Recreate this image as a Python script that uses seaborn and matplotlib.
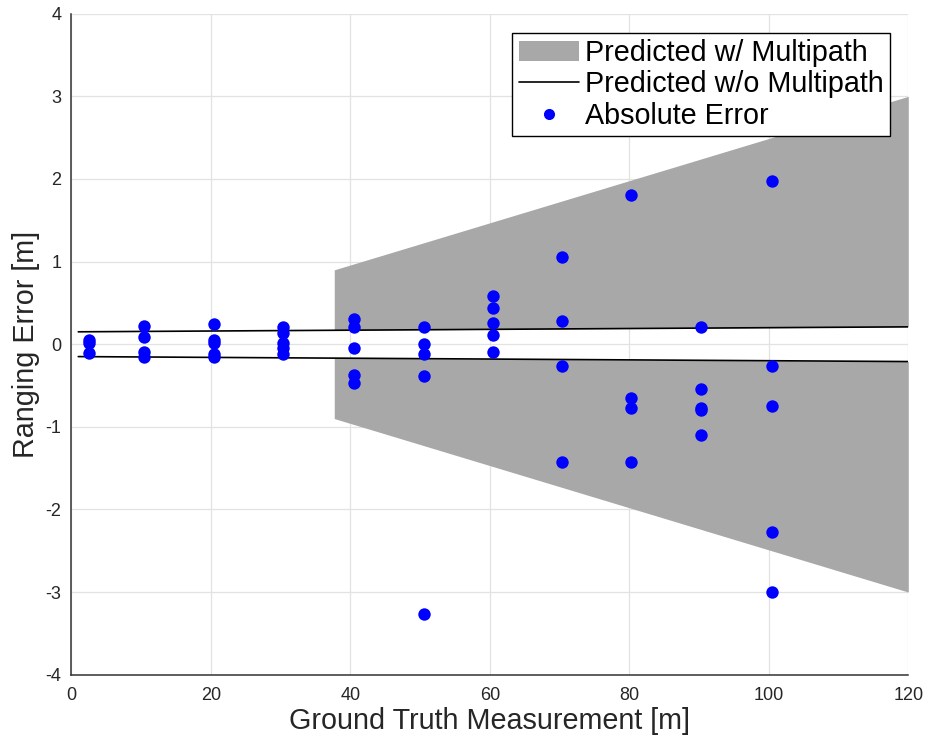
import numpy as np
import pandas as pd
import matplotlib
matplotlib.use("Agg")
import matplotlib.pyplot as plt
from matplotlib.patches import Patch
from matplotlib.lines import Line2D
import seaborn as sns

# ---- data ----
dist_2 = [2.5, 2.5, 2.5]
err_2 = [0.05, 0.02, -0.11]
dist_10 = [10.4, 10.4, 10.4, 10.4]
err_10 = [0.22, 0.09, -0.09, -0.16]
dist_20 = [20.4, 20.4, 20.4, 20.4, 20.4]
err_20 = [0.24, 0.05, 0.01, -0.12, -0.15]
dist_30 = [30.4, 30.4, 30.4, 30.4, 30.4]
err_30 = [0.21, 0.14, 0.01, -0.05, -0.12]
dist_40 = [40.5, 40.5, 40.5, 40.5, 40.5]
err_40 = [0.30, 0.21, -0.05, -0.37, -0.47]
dist_50 = [50.5, 50.5, 50.5, 50.5, 50.5]
err_50 = [0.21, 0.0, -0.12, -0.38, -3.27]
dist_60 = [60.4, 60.4, 60.4, 60.4, 60.4]
err_60 = [0.58, 0.44, 0.26, 0.11, -0.10]
dist_70 = [70.4, 70.4, 70.4, 70.4]
err_70 = [1.05, 0.28, -0.26, -1.43]
dist_80 = [80.3, 80.3, 80.3, 80.3]
err_80 = [1.80, -0.65, -0.77, -1.43]
dist_90 = [90.3, 90.3, 90.3, 90.3, 90.3]
err_90 = [0.21, -0.54, -0.77, -0.80, -1.10]
dist_100 = [100.5, 100.5, 100.5, 100.5, 100.5]
err_100 = [1.98, -0.26, -0.75, -2.27, -3.00]

# predicted without multipath (upper / lower bounds)
line_x = [1.0, 120.0]
line_upper = [0.15, 0.21]
line_lower = [-0.15, -0.21]

# predicted with multipath (outer bounds of shaded region)
band_x = [37.7, 120.0]
band_upper = [0.90, 3.00]
band_lower = [-0.90, -3.00]

x_ticks = [0, 20, 40, 60, 80, 100, 120]
y_ticks = [-4, -3, -2, -1, 0, 1, 2, 3, 4]

# ---- build table ----
dists = dist_2 + dist_10 + dist_20 + dist_30 + dist_40 + dist_50 + dist_60 + dist_70 + dist_80 + dist_90 + dist_100
errs = err_2 + err_10 + err_20 + err_30 + err_40 + err_50 + err_60 + err_70 + err_80 + err_90 + err_100
df = pd.DataFrame({"dist": dists, "err": errs})

sns.set_theme(style="white")
plt.rcParams["font.family"] = ["Liberation Sans", "DejaVu Sans"]

W, H = 927, 740
fig = plt.figure(figsize=(W / 100, H / 100), dpi=100)
ax = fig.add_axes([71.3 / W, 1 - 674.7 / H, (908.3 - 71.3) / W, (674.7 - 13.7) / H])

# grid
ax.set_axisbelow(True)
ax.grid(True, color="#e2e2e2", linewidth=0.9)

# shaded region (between inner line and outer bound)
bx = np.array(band_x)
inner_up = np.interp(bx, line_x, line_upper)
inner_lo = np.interp(bx, line_x, line_lower)
gray = "#a8a8a8"
ax.fill_between(bx, inner_up, band_upper, color=gray, linewidth=0, zorder=1.5)
ax.fill_between(bx, band_lower, inner_lo, color=gray, linewidth=0, zorder=1.5)

# lines
sns.lineplot(x=line_x, y=line_upper, color="black", linewidth=1.2, ax=ax, zorder=2)
sns.lineplot(x=line_x, y=line_lower, color="black", linewidth=1.2, ax=ax, zorder=2)

# points
sns.scatterplot(data=df, x="dist", y="err", color="#0000ff", s=80, linewidth=0, ax=ax, zorder=3)

ax.set_xlim(0, 120)
ax.set_ylim(-4, 4)
ax.set_xticks(x_ticks)
ax.set_yticks(y_ticks)
ax.set_xticklabels([str(t) for t in x_ticks])
ax.set_yticklabels([str(t) for t in y_ticks])

for s in ["top", "right"]:
    ax.spines[s].set_visible(False)
for s in ["left", "bottom"]:
    ax.spines[s].set_color("#333333")
    ax.spines[s].set_linewidth(1.1)

ax.tick_params(axis="both", direction="in", length=6.5, width=1.0, color="#333333",
               labelsize=13, labelcolor="#262626")
ax.tick_params(axis="y", pad=7)
ax.tick_params(axis="x", pad=9)

ax.set_xlabel("Ground Truth Measurement [m]", fontsize=20.7, color="#262626", labelpad=2)
ax.set_ylabel("Ranging Error [m]", fontsize=20.7, color="#262626", labelpad=4)

handles = [
    Patch(facecolor=gray, edgecolor="none", label="Predicted w/ Multipath"),
    Line2D([0], [0], color="black", linewidth=1.2, label="Predicted w/o Multipath"),
    Line2D([0], [0], marker="o", color="none", markerfacecolor="#0000ff",
           markeredgewidth=0, markersize=8, label="Absolute Error"),
]
leg = ax.legend(handles=handles, loc="upper right", bbox_to_anchor=(890 / W, 1 - 32.7 / H),
                bbox_transform=fig.transFigure, borderaxespad=0, fancybox=False, frameon=True,
                fontsize=20.7, handlelength=2.1, handletextpad=0.2, labelspacing=0.12,
                borderpad=0.22, labelcolor="black")
leg.get_frame().set_edgecolor("black")
leg.get_frame().set_linewidth(1.0)
leg.get_frame().set_alpha(1)

fig.savefig("out.png", dpi=100)
